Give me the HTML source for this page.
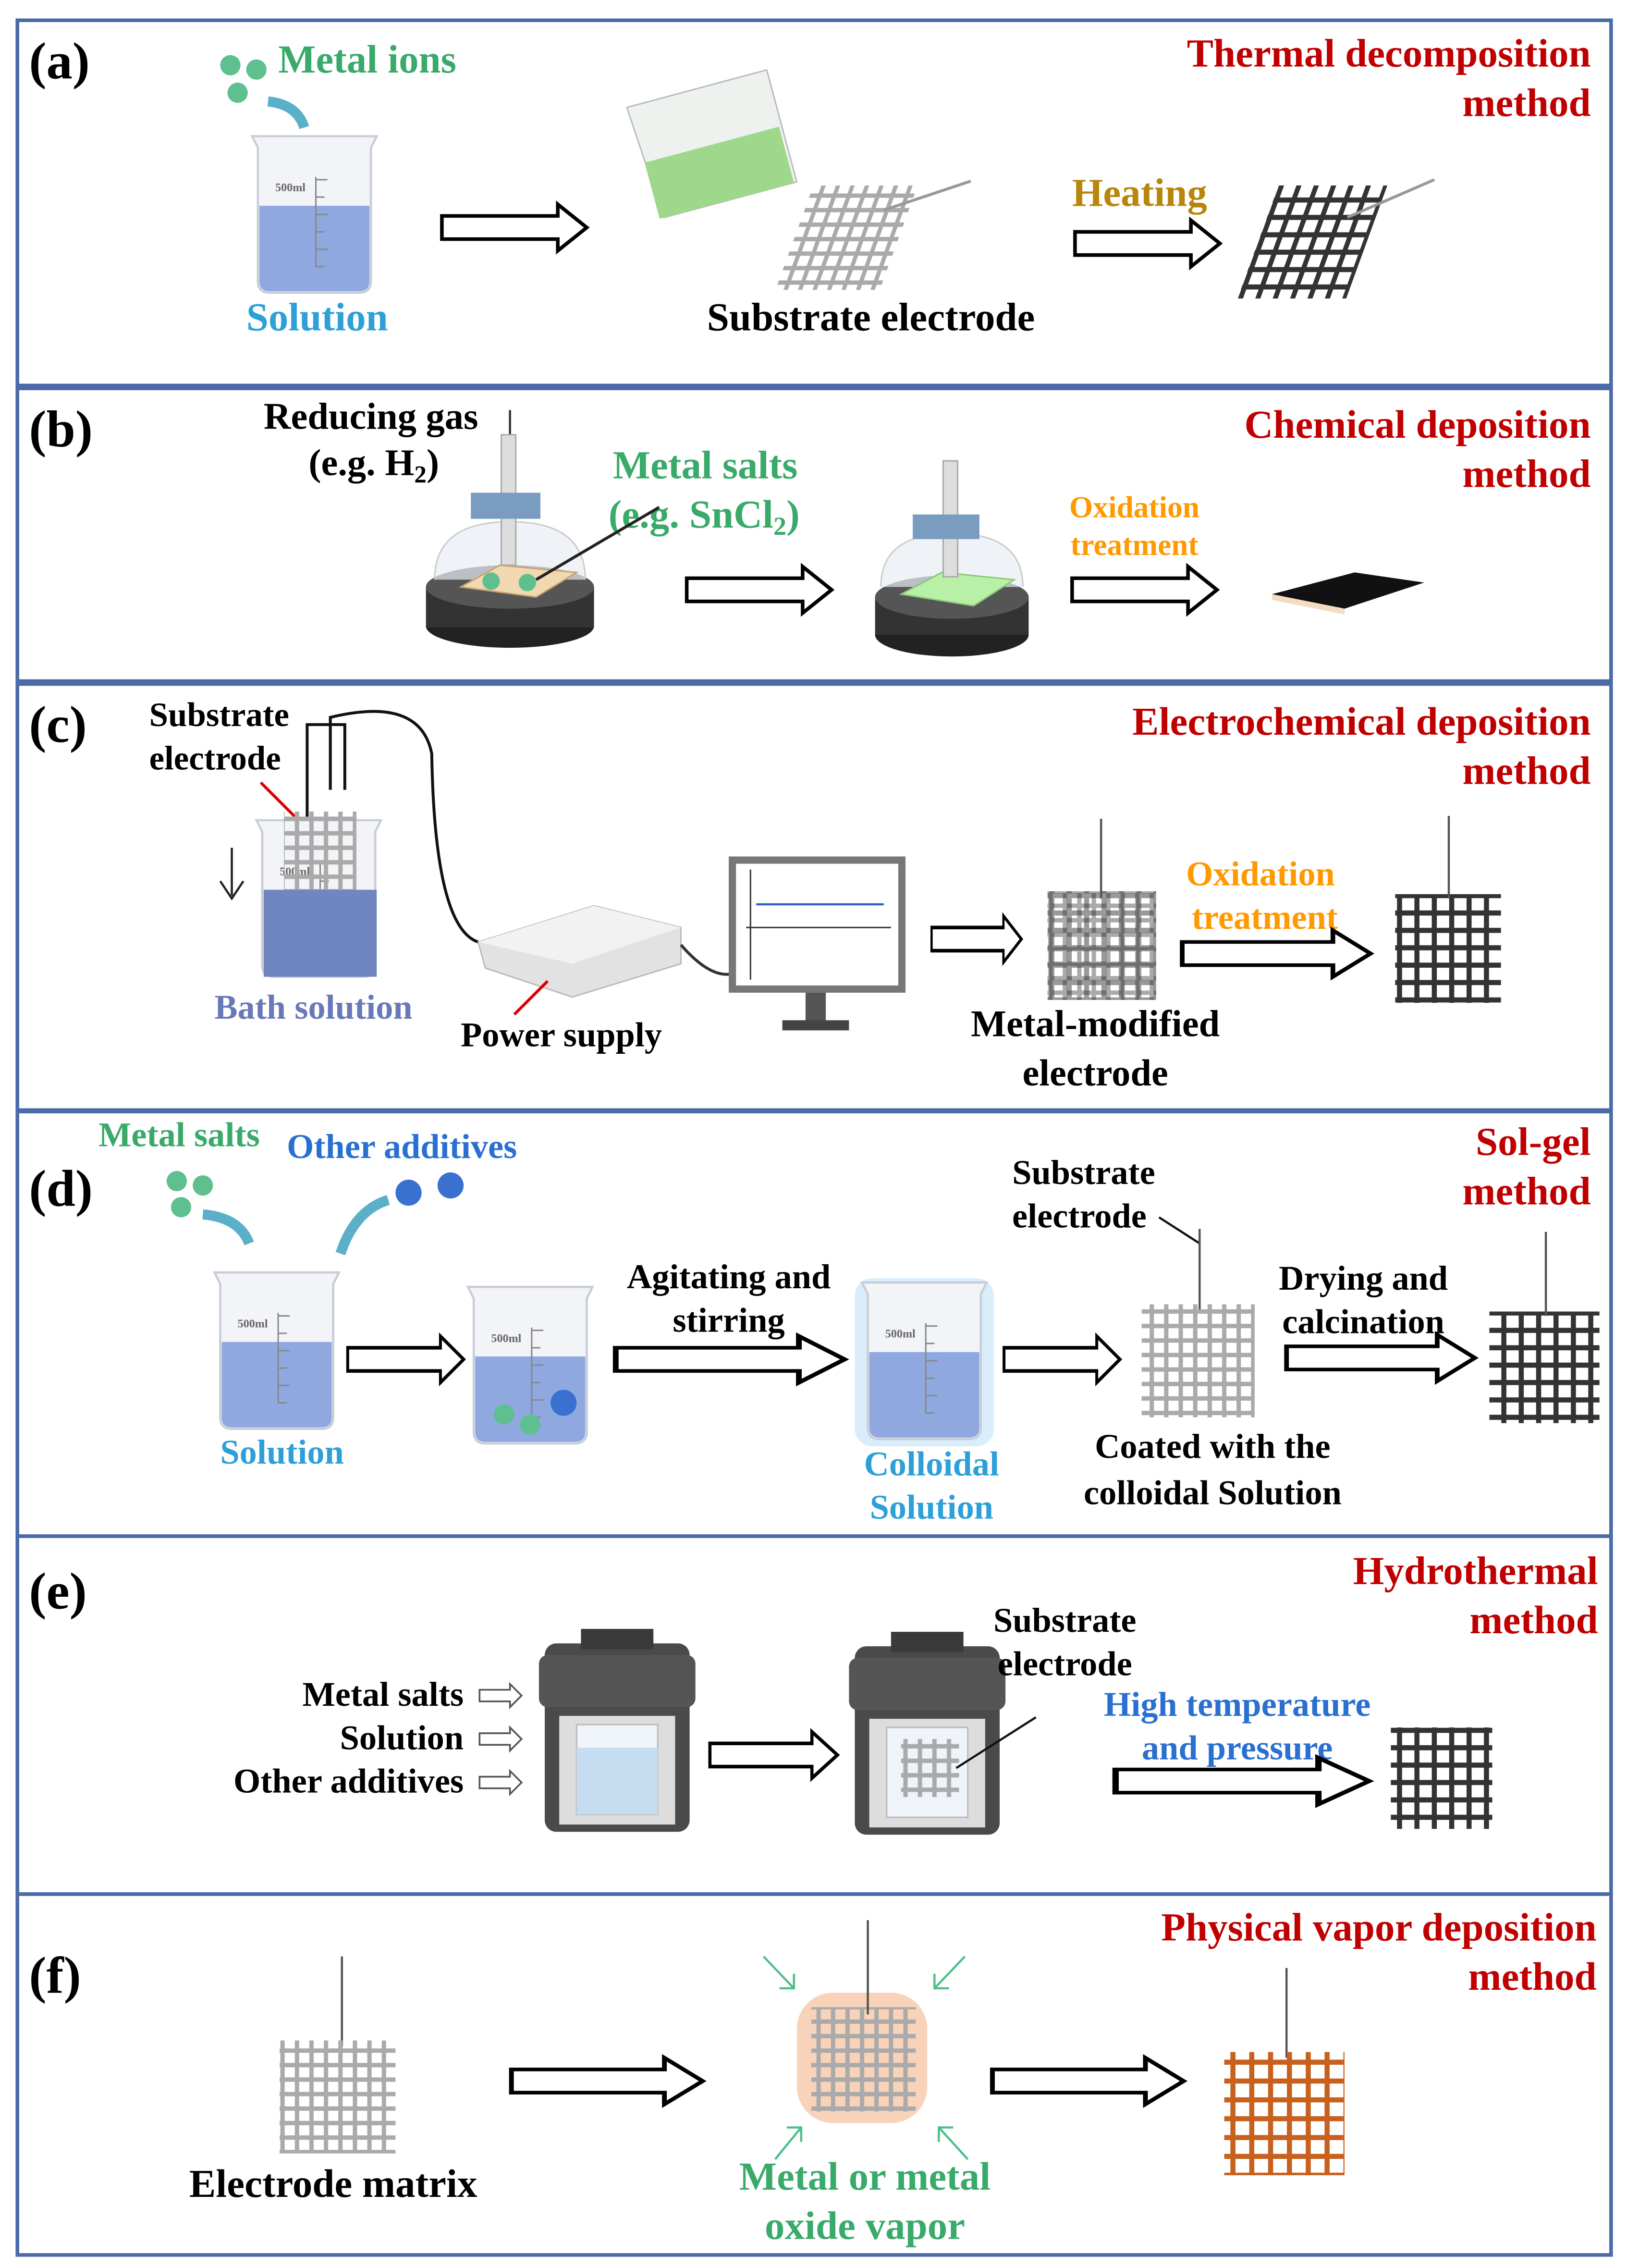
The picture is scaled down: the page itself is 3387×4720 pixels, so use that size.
<!DOCTYPE html>
<html><head><meta charset="utf-8"><style>
html,body{margin:0;padding:0;background:#fff}
svg{display:block}
text{font-family:"Liberation Serif",serif;font-weight:bold}
</style></head><body>
<svg width="3387" height="4720" viewBox="0 0 1123 1565" preserveAspectRatio="none" xmlns="http://www.w3.org/2000/svg">
<defs>
<g id="arrow"><path d="M0,-8 H80 V-16 L100,0 L80,16 V8 H0 Z" fill="#fff" stroke="#000" stroke-width="2.5"/></g>
<g id="beaker">
<path d="M0,0 H86 L82,8 V100 Q82,108 74,108 H12 Q4,108 4,100 V8 Z" fill="#f2f4f8" stroke="#c8ccd6" stroke-width="1.5"/>
<path d="M5,48 H81 V100 Q81,107 74,107 H12 Q5,107 5,100 Z" fill="#8fa8e0"/>
<path d="M44,28 V90 M44,30 H52 M44,42 H50 M44,54 H52 M44,66 H50 M44,78 H52 M44,90 H50" stroke="#888" stroke-width="1"/>
<text x="16" y="38" font-size="8" font-weight="normal" fill="#666" font-family="Liberation Sans">500ml</text>
</g>
<pattern id="meshL" width="10" height="10" patternUnits="userSpaceOnUse"><path d="M5,0V10M0,5H10" stroke="#aaa" stroke-width="3"/></pattern>
<pattern id="meshD" width="12" height="12" patternUnits="userSpaceOnUse"><path d="M6,0V12M0,6H12" stroke="#333" stroke-width="3.5"/></pattern>
<pattern id="meshO" width="13" height="13" patternUnits="userSpaceOnUse"><path d="M6,0V13M0,6H13" stroke="#c8601e" stroke-width="3.5"/></pattern>
<g id="autoclave">
<rect x="0" y="10" width="100" height="130" rx="8" fill="#4a4a4a"/>
<rect x="25" y="0" width="50" height="14" fill="#3a3a3a"/>
<rect x="-4" y="18" width="108" height="36" rx="6" fill="#555"/>
<rect x="10" y="60" width="80" height="75" fill="#ddd"/>
<rect x="22" y="66" width="56" height="62" fill="#eef4fa" stroke="#bbb"/>
</g>
</defs>
<rect width="1123" height="1565" fill="#fff"/>
<g fill="none" stroke="#4a6aa8" stroke-width="2.5">
<rect x="12" y="14" width="1100" height="252"/>
<rect x="12" y="268" width="1100" height="202"/>
<rect x="12" y="472" width="1100" height="294"/>
<rect x="12" y="767" width="1100" height="293"/>
<rect x="12" y="1060" width="1100" height="247"/>
<rect x="12" y="1307" width="1100" height="249"/>
</g>
<!-- (a) -->
<text x="20" y="54" font-size="36">(a)</text>
<text x="1098" y="46" font-size="27.5" fill="#c00000" text-anchor="end">Thermal decomposition</text>
<text x="1098" y="80" font-size="27.5" fill="#c00000" text-anchor="end">method</text>
<circle cx="159" cy="45" r="7" fill="#5ec08e"/><circle cx="177" cy="48" r="7" fill="#5ec08e"/><circle cx="164" cy="64" r="7" fill="#5ec08e"/>
<path d="M185,70 Q205,72 210,88" stroke="#5ab0c8" stroke-width="7" fill="none"/>
<text x="192" y="50" font-size="27.5" fill="#3aaa6a">Metal ions</text>
<use href="#beaker" x="174" y="94"/>
<text x="170" y="228" font-size="27.5" fill="#2ea0d8">Solution</text>
<use href="#arrow" x="305" y="157"/>
<g transform="rotate(-15 490 95)"><path d="M440,60 H540 V140 H445 Z" fill="#eef2ee" stroke="#bbb"/><rect x="442" y="100" width="96" height="40" fill="#9ed88a"/></g>
<g transform="translate(583 165) skewX(-20) translate(-583 -165)"><rect x="548" y="128" width="72" height="72" fill="url(#meshL)"/></g>
<line x1="610" y1="145" x2="670" y2="125" stroke="#999" stroke-width="2"/>
<text x="488" y="228" font-size="27.5">Substrate electrode</text>
<text x="740" y="142" font-size="27.5" fill="#b8860b">Heating</text>
<use href="#arrow" x="742" y="168"/>
<g transform="translate(903 168) skewX(-20) translate(-903 -168)"><rect x="868" y="128" width="75" height="78" fill="url(#meshD)"/></g>
<line x1="930" y1="150" x2="990" y2="124" stroke="#999" stroke-width="2"/>
<!-- (b) -->
<text x="20" y="308" font-size="36">(b)</text>
<text x="1098" y="302" font-size="27.5" fill="#c00000" text-anchor="end">Chemical deposition</text>
<text x="1098" y="336" font-size="27.5" fill="#c00000" text-anchor="end">method</text>
<text x="182" y="296" font-size="26">Reducing gas</text>
<text x="213" y="328" font-size="26">(e.g. H<tspan font-size="17" dy="5">2</tspan><tspan dy="-5">)</tspan></text>
<line x1="352" y1="283" x2="352" y2="310" stroke="#333" stroke-width="1.5"/>
<text x="423" y="330" font-size="27.5" fill="#3aaa6a">Metal salts</text>
<text x="420" y="364" font-size="27.5" fill="#3aaa6a">(e.g. SnCl<tspan font-size="18" dy="5">2</tspan><tspan dy="-5">)</tspan></text>
<g>
<ellipse cx="352" cy="432" rx="58" ry="15" fill="#222"/><rect x="294" y="405" width="116" height="28" fill="#333"/><ellipse cx="352" cy="405" rx="58" ry="15" fill="#555"/>
<path d="M300,400 Q300,360 352,360 Q404,360 404,400" fill="#e8eef4" fill-opacity="0.7" stroke="#ccc"/>
<path d="M318,405 L345,390 L398,395 L370,412 Z" fill="#f0d8b0" stroke="#c8a070"/>
<rect x="346" y="300" width="10" height="90" fill="#ddd" stroke="#aaa"/>
<rect x="325" y="340" width="48" height="18" fill="#7a9cc0"/>
<circle cx="339" cy="401" r="6" fill="#5ec08e"/><circle cx="364" cy="402" r="6" fill="#5ec08e"/>
<line x1="370" y1="400" x2="455" y2="350" stroke="#222" stroke-width="2"/>
</g>
<use href="#arrow" x="474" y="407"/>
<g>
<ellipse cx="657" cy="438" rx="53" ry="15" fill="#222"/><rect x="604" y="412" width="106" height="26" fill="#333"/><ellipse cx="657" cy="412" rx="53" ry="15" fill="#555"/>
<path d="M608,405 Q608,368 657,368 Q706,368 706,405" fill="#e8eef4" fill-opacity="0.7" stroke="#ccc"/>
<path d="M622,410 L650,395 L700,400 L672,418 Z" fill="#b8f0a8" stroke="#8ac87a"/>
<rect x="651" y="318" width="10" height="80" fill="#ddd" stroke="#aaa"/>
<rect x="630" y="355" width="46" height="17" fill="#7a9cc0"/>
</g>
<text x="783" y="357" font-size="21" fill="#ff9900" text-anchor="middle">Oxidation</text>
<text x="783" y="383" font-size="21" fill="#ff9900" text-anchor="middle">treatment</text>
<use href="#arrow" x="740" y="407"/>
<path d="M878,410 L935,395 L983,402 L928,420 Z" fill="#111"/><path d="M878,410 L928,420 L928,424 L878,414 Z" fill="#f4dcc0"/>
<!-- (c) -->
<text x="20" y="512" font-size="36">(c)</text>
<text x="1098" y="507" font-size="27.5" fill="#c00000" text-anchor="end">Electrochemical deposition</text>
<text x="1098" y="541" font-size="27.5" fill="#c00000" text-anchor="end">method</text>
<text x="103" y="501" font-size="23.5">Substrate</text>
<text x="103" y="531" font-size="23.5">electrode</text>
<line x1="180" y1="540" x2="205" y2="565" stroke="#d00" stroke-width="2"/>
<path d="M212,565 V500 H238 V545 M228,545 V495 Q290,480 298,520 Q300,640 330,650" fill="none" stroke="#111" stroke-width="2"/>
<use href="#beaker" x="177" y="566"/>
<rect x="196" y="560" width="50" height="60" fill="url(#meshL)"/>
<rect x="182" y="614" width="78" height="60" fill="#6f86c0"/>
<line x1="160" y1="585" x2="160" y2="618" stroke="#222" stroke-width="1.5"/><path d="M152,608 L160,620 L168,608" fill="none" stroke="#222" stroke-width="1.5"/>
<text x="148" y="703" font-size="24" fill="#6878b8">Bath solution</text>
<path d="M330,650 L410,625 L470,640 L470,665 L395,688 L335,668 Z" fill="#e2e2e2" stroke="#bbb"/>
<path d="M330,650 L410,625 L470,640 L395,665 Z" fill="#f2f2f2"/>
<path d="M470,652 Q490,675 505,672" fill="none" stroke="#333" stroke-width="2"/>
<line x1="378" y1="677" x2="355" y2="700" stroke="#d00" stroke-width="2"/>
<text x="318" y="722" font-size="24">Power supply</text>
<rect x="503" y="591" width="122" height="94" fill="#777"/><rect x="508" y="596" width="112" height="84" fill="#fff"/>
<line x1="515" y1="640" x2="615" y2="640" stroke="#333"/><line x1="518" y1="600" x2="518" y2="676" stroke="#333"/><line x1="522" y1="624" x2="610" y2="624" stroke="#3060c0" stroke-width="1.5"/>
<rect x="556" y="685" width="14" height="20" fill="#555"/><rect x="540" y="704" width="46" height="7" fill="#444"/>
<use href="#arrow" x="643" y="648" transform="translate(643 648) scale(0.62 1) translate(-643 -648)"/>
<rect x="723" y="615" width="75" height="75" fill="url(#meshL)"/>
<rect x="723" y="615" width="75" height="75" fill="url(#meshD)" opacity="0.5"/>
<line x1="760" y1="565" x2="760" y2="620" stroke="#555" stroke-width="1.5"/>
<text x="756" y="715" font-size="26" text-anchor="middle">Metal-modified</text>
<text x="756" y="749" font-size="26" text-anchor="middle">electrode</text>
<text x="870" y="611" font-size="24" fill="#ff9900" text-anchor="middle">Oxidation</text>
<text x="873" y="641" font-size="24" fill="#ff9900" text-anchor="middle">treatment</text>
<use href="#arrow" x="816" y="658" transform="translate(816 658) scale(1.3 1) translate(-816 -658)"/>
<rect x="963" y="617" width="73" height="75" fill="url(#meshD)"/>
<line x1="1000" y1="563" x2="1000" y2="620" stroke="#555" stroke-width="1.5"/>
<!-- (d) -->
<text x="20" y="832" font-size="36">(d)</text>
<text x="1098" y="797" font-size="27.5" fill="#c00000" text-anchor="end">Sol-gel</text>
<text x="1098" y="831" font-size="27.5" fill="#c00000" text-anchor="end">method</text>
<text x="68" y="791" font-size="24" fill="#3aaa6a">Metal salts</text>
<text x="198" y="799" font-size="24" fill="#2a70d0">Other additives</text>
<circle cx="122" cy="815" r="7" fill="#5ec08e"/><circle cx="140" cy="818" r="7" fill="#5ec08e"/><circle cx="125" cy="833" r="7" fill="#5ec08e"/>
<path d="M140,838 Q165,840 172,858" stroke="#5ab0c8" stroke-width="7" fill="none"/>
<circle cx="282" cy="823" r="9" fill="#3a70d0"/><circle cx="311" cy="818" r="9" fill="#3a70d0"/>
<path d="M268,828 Q245,835 235,865" stroke="#5ab0c8" stroke-width="7" fill="none"/>
<use href="#beaker" x="148" y="878"/>
<text x="152" y="1010" font-size="24" fill="#2ea0d8">Solution</text>
<use href="#arrow" x="240" y="938" transform="translate(240 938) scale(0.8 1) translate(-240 -938)"/>
<use href="#beaker" x="323" y="888"/>
<circle cx="348" cy="976" r="7" fill="#5ec08e"/><circle cx="366" cy="983" r="7" fill="#5ec08e"/><circle cx="389" cy="968" r="9" fill="#3a70d0"/>
<text x="503" y="889" font-size="24" text-anchor="middle">Agitating and</text>
<text x="503" y="919" font-size="24" text-anchor="middle">stirring</text>
<use href="#arrow" x="425" y="938" transform="translate(425 938) scale(1.58 1) translate(-425 -938)"/>
<rect x="590" y="882" width="96" height="116" rx="12" fill="#cfe8fa" opacity="0.8"/>
<use href="#beaker" x="595" y="885"/>
<text x="643" y="1018" font-size="24" fill="#2ea0d8" text-anchor="middle">Colloidal</text>
<text x="643" y="1048" font-size="24" fill="#2ea0d8" text-anchor="middle">Solution</text>
<use href="#arrow" x="693" y="938" transform="translate(693 938) scale(0.8 1) translate(-693 -938)"/>
<text x="748" y="817" font-size="24" text-anchor="middle">Substrate</text>
<text x="745" y="847" font-size="24" text-anchor="middle">electrode</text>
<line x1="800" y1="840" x2="828" y2="858" stroke="#111" stroke-width="1.5"/>
<line x1="828" y1="848" x2="828" y2="905" stroke="#555" stroke-width="1.5"/>
<rect x="788" y="900" width="78" height="78" fill="url(#meshL)"/>
<text x="837" y="1006" font-size="24" text-anchor="middle">Coated with the</text>
<text x="837" y="1038" font-size="24" text-anchor="middle">colloidal Solution</text>
<text x="941" y="890" font-size="24" text-anchor="middle">Drying and</text>
<text x="941" y="920" font-size="24" text-anchor="middle">calcination</text>
<use href="#arrow" x="888" y="937" transform="translate(888 937) scale(1.3 1) translate(-888 -937)"/>
<rect x="1028" y="905" width="76" height="77" fill="url(#meshD)"/>
<line x1="1067" y1="850" x2="1067" y2="908" stroke="#555" stroke-width="1.5"/>
<!-- (e) -->
<text x="20" y="1110" font-size="36">(e)</text>
<text x="1103" y="1093" font-size="27.5" fill="#c00000" text-anchor="end">Hydrothermal</text>
<text x="1103" y="1127" font-size="27.5" fill="#c00000" text-anchor="end">method</text>
<text x="320" y="1177" font-size="24" text-anchor="end">Metal salts</text>
<text x="320" y="1207" font-size="24" text-anchor="end">Solution</text>
<text x="320" y="1237" font-size="24" text-anchor="end">Other additives</text>
<g fill="#fff" stroke="#555" stroke-width="1.2">
<path d="M331,1166 H352 V1162 L360,1170 L352,1178 V1174 H331 Z"/>
<path d="M331,1196 H352 V1192 L360,1200 L352,1208 V1204 H331 Z"/>
<path d="M331,1226 H352 V1222 L360,1230 L352,1238 V1234 H331 Z"/>
</g>
<use href="#autoclave" x="376" y="1124"/>
<rect x="398" y="1206" width="56" height="46" fill="#c6dcf0"/>
<use href="#arrow" x="490" y="1211" transform="translate(490 1211) scale(0.88 1) translate(-490 -1211)"/>
<use href="#autoclave" x="590" y="1126"/>
<rect x="622" y="1200" width="40" height="40" fill="url(#meshL)"/>
<line x1="660" y1="1220" x2="715" y2="1185" stroke="#111" stroke-width="1.5"/>
<text x="735" y="1126" font-size="24" text-anchor="middle">Substrate</text>
<text x="735" y="1156" font-size="24" text-anchor="middle">electrode</text>
<text x="854" y="1184" font-size="24" fill="#2a70d0" text-anchor="middle">High temperature</text>
<text x="854" y="1214" font-size="24" fill="#2a70d0" text-anchor="middle">and pressure</text>
<use href="#arrow" x="770" y="1229" transform="translate(770 1229) scale(1.75 1) translate(-770 -1229)"/>
<rect x="960" y="1192" width="70" height="70" fill="url(#meshD)"/>
<!-- (f) -->
<text x="20" y="1375" font-size="36">(f)</text>
<text x="1102" y="1339" font-size="27.5" fill="#c00000" text-anchor="end">Physical vapor deposition</text>
<text x="1102" y="1373" font-size="27.5" fill="#c00000" text-anchor="end">method</text>
<line x1="236" y1="1350" x2="236" y2="1412" stroke="#555" stroke-width="1.5"/>
<rect x="193" y="1408" width="80" height="78" fill="url(#meshL)"/>
<text x="230" y="1516" font-size="27.5" text-anchor="middle">Electrode matrix</text>
<use href="#arrow" x="353" y="1436" transform="translate(353 1436) scale(1.32 1) translate(-353 -1436)"/>
<rect x="550" y="1375" width="90" height="90" rx="25" fill="#f8c8a8" opacity="0.8"/>
<rect x="560" y="1385" width="72" height="72" fill="url(#meshL)"/>
<line x1="599" y1="1325" x2="599" y2="1390" stroke="#555" stroke-width="1.5"/>
<g stroke="#4cc08a" stroke-width="1.5" fill="none">
<path d="M527,1350 L548,1372 M548,1362 V1372 H538"/><path d="M666,1350 L645,1372 M645,1362 V1372 H655"/>
<path d="M535,1490 L553,1468 M543,1468 H553 V1478"/><path d="M668,1490 L648,1468 M658,1468 H648 V1478"/>
</g>
<text x="597" y="1511" font-size="27.5" fill="#3aaa6a" text-anchor="middle">Metal or metal</text>
<text x="597" y="1545" font-size="27.5" fill="#3aaa6a" text-anchor="middle">oxide vapor</text>
<use href="#arrow" x="685" y="1436" transform="translate(685 1436) scale(1.32 1) translate(-685 -1436)"/>
<line x1="888" y1="1358" x2="888" y2="1420" stroke="#555" stroke-width="1.5"/>
<rect x="845" y="1416" width="83" height="85" fill="url(#meshO)"/>
</svg>
</body></html>
